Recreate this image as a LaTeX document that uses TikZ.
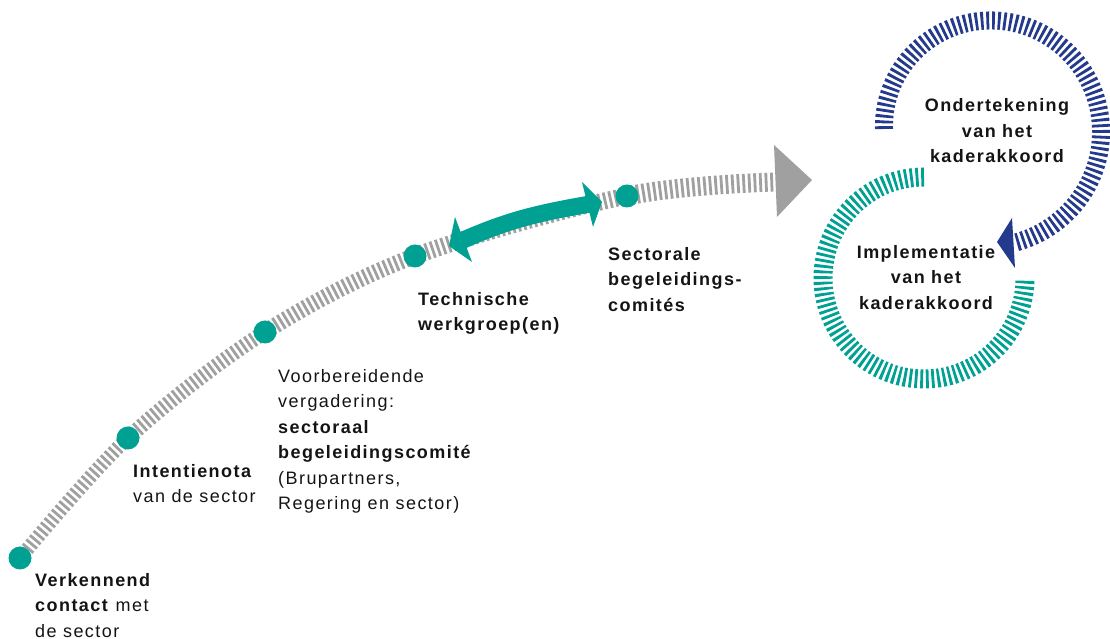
\documentclass[tikz,border=0pt]{standalone}
\usepackage{fontspec}
\setmainfont{Liberation Sans}[LetterSpace=8]
\usetikzlibrary{arrows.meta}
\definecolor{tealc}{RGB}{0,161,146}
\definecolor{grayc}{RGB}{160,160,160}
\definecolor{navyc}{RGB}{36,58,140}
\definecolor{txtc}{RGB}{20,20,20}
\tikzset{
  lbl/.style={anchor=north west, align=left, inner sep=0pt, text=txtc, font=\fontsize{18}{25.5}\selectfont},
  clbl/.style={anchor=north, align=center, inner sep=0pt, text=txtc, font=\fontsize{18}{25.5}\selectfont\bfseries},
  graystripe/.style={draw=grayc, dash pattern=on 2.8pt off 2.8pt},
  navystripe/.style={draw=navyc, line width=18pt, dash pattern=on 2.8pt off 2.9pt},
  tealstripe/.style={draw=tealc, line width=19pt, dash pattern=on 2.8pt off 2.8pt},
  dot/.style={circle, fill=tealc, minimum size=23pt, inner sep=0pt}
}
\newcommand{\graypath}{plot[smooth, tension=0.55] coordinates {(20,81) (128,201) (265,307) (415,383) (627,443) (774,457)}}
\begin{document}
\begin{tikzpicture}[x=1pt,y=1pt]
\useasboundingbox (0,0) rectangle (1110,639);
% gray hatched path, slightly widening
\foreach \xa/\xb/\w in {0/128/14, 128/265/15, 265/415/16, 415/627/17, 627/800/19}{
  \begin{scope}
    \clip (\xa,0) rectangle (\xb,639);
    \draw[graystripe, line width=\w pt] \graypath;
  \end{scope}
}
\coordinate (gb1) at (774,494);
\coordinate (gb2) at (777,422);
\coordinate (gtip) at (812,459);
\fill[grayc] (gb1) -- (gtip) -- (gb2) -- cycle;
% green double arrow
\coordinate (ga) at (461,398);
\coordinate (gz) at (590,435);
\draw[tealc, line width=17pt] (ga) to[out=24,in=190] (gz);
\coordinate (la1) at (455,422);
\coordinate (la2) at (472,377);
\coordinate (latip) at (449,393);
\fill[tealc] (la1) -- (latip) -- (la2) -- cycle;
\coordinate (ra1) at (582,457);
\coordinate (ra2) at (593,412);
\coordinate (ratip) at (602,437);
\fill[tealc] (ra1) -- (ratip) -- (ra2) -- cycle;
% dots
\node[dot] (d1) at (20,81) {};
\node[dot] (d2) at (128,201) {};
\node[dot] (d3) at (265,307) {};
\node[dot] (d4) at (415,383) {};
\node[dot] (d5) at (627,443) {};
% teal circle
\coordinate (tc) at (924,361);
\draw[tealstripe] (924,462) arc[start angle=90, end angle=360, radius=101];
% navy spiral
\draw[navystripe] plot[domain=180:-77, samples=140, variable=\t] ({988+(104+0.05*(180-\t))*cos(\t)}, {510+(104+0.05*(180-\t))*sin(\t)});
\coordinate (nb1) at (1012,421);
\coordinate (nb2) at (1015,371);
\coordinate (ntip) at (997,397);
\fill[navyc] (nb1) -- (ntip) -- (nb2) -- cycle;
% labels
\node[lbl] (t1) at (35,66) {\textbf{Verkennend}\\\textbf{contact} met\\de sector};
\node[lbl] (t2) at (133,175) {\textbf{Intentienota}\\van de sector};
\node[lbl] (t3) at (278,270) {Voorbereidende\\vergadering:\\\textbf{sectoraal}\\\textbf{begeleidingscomité}\\(Brupartners,\\Regering en sector)};
\node[lbl, font=\fontsize{18}{25.5}\selectfont\bfseries] (t4) at (418,347) {Technische\\werkgroep(en)};
\node[lbl, font=\fontsize{18}{25.5}\selectfont\bfseries] (t5) at (608,392) {Sectorale\\begeleidings-\\comités};
\node[clbl] (t6) at (997,540.5) {Ondertekening\\van het\\kaderakkoord};
\node[clbl] (t7) at (926,394) {Implementatie\\van het\\kaderakkoord};
\end{tikzpicture}
\end{document}
